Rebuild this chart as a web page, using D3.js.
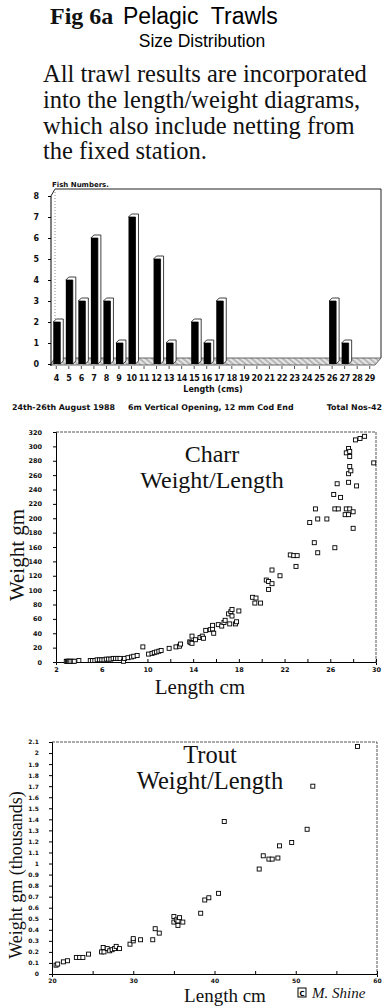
<!DOCTYPE html>
<html>
<head>
<meta charset="utf-8">
<script src="https://cdn.jsdelivr.net/npm/d3@7"></script>
<style>
  html, body { margin: 0; padding: 0; background: #fff; }
  svg { display: block; }
  .small { font-family: "DejaVu Sans", sans-serif; font-weight: bold; fill: #111; }
  .serif { font-family: "Liberation Serif", "Times New Roman", serif; fill: #111; }
  .tick text { font-family: "DejaVu Sans", sans-serif; font-weight: bold; fill: #111; }
</style>
</head>
<body>
<div id="chart"></div>
<script>
const width = 388;
const height = 1006;

// size distribution (bar chart)
const lengthCats = ["4", "5", "6", "7", "8", "9", "10", "11", "12", "13", "14", "15", "16",
  "17", "18", "19", "20", "21", "22", "23", "24", "25", "26", "27", "28", "29"];
const fishCounts = [2, 4, 3, 6, 3, 1, 7, 0, 5, 1, 0, 2, 1, 3, 0, 0, 0, 0, 0, 0, 0, 0, 3, 1, 0, 0];
const barTicks = [0, 1, 2, 3, 4, 5, 6, 7, 8];

// charr weight/length
const charrLength = [2.9, 3.0, 3.1, 3.2, 3.3, 3.5, 3.6, 4.0,
  5.0, 5.2, 5.4, 5.6, 5.8, 6.0, 6.2, 6.4, 6.6, 6.8, 7.0, 7.2, 7.4, 7.6, 7.9, 8.0, 8.3, 8.6, 8.8, 9.1,
  9.6, 10.1, 10.4, 10.6, 10.8, 11.0, 11.2, 11.9, 12.5, 12.8, 12.9, 13.7, 13.8, 13.9, 13.9,
  14.2, 14.6, 14.8, 14.9, 15.1, 15.5, 15.7, 15.8, 15.7, 16.2, 16.5, 16.7, 16.8, 17.1, 17.2,
  17.3, 17.4, 17.7, 17.8, 18.0, 17.4, 19.2, 19.4, 19.9, 19.5, 20.4, 20.6, 20.6, 20.9, 20.9, 21.6,
  22.5, 22.8, 23.1, 23.0, 24.2, 24.6, 24.7, 24.9, 24.9, 25.7, 26.3, 26.4, 26.4, 26.7, 26.6,
  26.9, 27.3, 27.4, 27.6, 27.6, 27.4, 27.6, 27.7, 27.7, 27.7, 27.6, 27.8, 27.7, 28.0,
  28.0, 28.3, 28.2, 28.6, 29.0, 29.8];
const charrWeight = [1, 1, 1, 1, 1, 1, 1, 2,
  2, 2, 2, 3, 3, 3, 3, 4, 4, 4, 5, 5, 5, 5, 1, 5, 6, 7, 8, 9,
  21, 11, 12, 13, 14, 15, 16, 19, 21, 22, 25, 28, 27, 26, 36,
  31, 34, 36, 33, 44, 45, 46, 40, 51, 52, 50, 55, 58, 67, 53,
  70, 64, 53, 56, 71, 73, 90, 82, 82, 89, 114, 112, 101, 109, 128, 120,
  149, 148, 148, 133, 194, 166, 213, 152, 199, 199, 233, 213, 159, 213, 248,
  229, 205, 213, 205, 262, 291, 297, 272, 293, 286, 250, 266, 213, 186,
  209, 245, 309, 311, 314, 277];
const charrYTicks = [0, 20, 40, 60, 80, 100, 120, 140, 160, 180, 200, 220, 240, 260, 280, 300, 320];
const charrXTicks = [2, 4, 6, 8, 10, 12, 14, 16, 18, 20, 22, 24, 26, 28, 30];

// trout weight/length (weights in thousands of gm)
const troutLength = [20.5, 20.7, 21.4, 21.9, 23.0, 23.4, 23.8, 24.5, 26.1, 26.3, 26.4, 26.8,
  27.1, 27.4, 27.7, 27.9, 28.3, 29.6, 30.0, 30.0, 30.9, 32.4, 32.7, 33.2, 35.0, 35.0, 35.3,
  35.5, 35.5, 35.7, 36.1, 38.3, 38.8, 39.3, 40.5, 41.2, 45.5, 46.0, 46.7, 47.1, 47.8, 48.0,
  49.5, 51.4, 52.1, 57.6];
const troutWeight = [0.08, 0.09, 0.11, 0.12, 0.15, 0.15, 0.15, 0.18, 0.20, 0.24, 0.20, 0.23,
  0.21, 0.22, 0.23, 0.25, 0.23, 0.27, 0.30, 0.32, 0.31, 0.31, 0.41, 0.37, 0.52, 0.47, 0.49,
  0.48, 0.44, 0.51, 0.47, 0.55, 0.67, 0.69, 0.73, 1.38, 0.95, 1.07, 1.04, 1.04, 1.05, 1.16,
  1.19, 1.31, 1.70, 2.06];
const troutYTicks = [0, 0.1, 0.2, 0.3, 0.4, 0.5, 0.6, 0.7, 0.8, 0.9, 1, 1.1, 1.2, 1.3, 1.4,
  1.5, 1.6, 1.7, 1.8, 1.9, 2, 2.1];
const troutXTicks = [20, 25, 30, 35, 40, 45, 50, 55, 60];

const introLines = [
  "All trawl results are incorporated",
  "into the length/weight diagrams,",
  "which also include netting from",
  "the fixed station."
];

const svg = d3.select("#chart")
  .append("svg")
  .attr("width", width)
  .attr("height", height);

svg.append("rect").attr("width", width).attr("height", height).attr("fill", "#fff");

// ---- heading ----
svg.append("text").attr("class", "serif")
  .attr("x", 50).attr("y", 24)
  .style("font-size", "24px").style("font-weight", "bold")
  .text("Fig 6a");
svg.append("text")
  .attr("x", 123).attr("y", 24)
  .style("font-family", "'Liberation Sans', Arial, sans-serif")
  .style("font-size", "23px").style("white-space", "pre")
  .text("Pelagic  Trawls");
svg.append("text")
  .attr("x", 202).attr("y", 47)
  .attr("text-anchor", "middle")
  .style("font-family", "'Liberation Sans', Arial, sans-serif")
  .style("font-size", "17.5px")
  .text("Size Distribution");

svg.append("g").selectAll("text")
  .data(introLines)
  .join("text")
  .attr("class", "serif")
  .attr("x", 43)
  .attr("y", (d, i) => 82 + i * 25.8)
  .style("font-size", "24.5px")
  .text(d => d);

// ---- bar chart ----
const xBar = d3.scaleBand().domain(lengthCats).range([50, 376]);
const yBar = d3.scaleLinear().domain([0, 8]).range([364, 196]);
const dep = 3;

const defs = svg.append("defs");
const pat = defs.append("pattern")
  .attr("id", "hatch")
  .attr("width", 4).attr("height", 4)
  .attr("patternUnits", "userSpaceOnUse")
  .attr("patternTransform", "rotate(-50)");
pat.append("rect").attr("width", 4).attr("height", 4).attr("fill", "#b8b8b8");
pat.append("line").attr("x1", 1).attr("y1", 0).attr("x2", 1).attr("y2", 4)
  .attr("stroke", "#fff").attr("stroke-width", 1.3);

svg.append("text").attr("class", "small")
  .attr("x", 52).attr("y", 187)
  .style("font-size", "7px")
  .text("Fish Numbers.");

const frame = svg.append("g").attr("fill", "none").attr("stroke", "#222").attr("stroke-width", 1);
frame.append("path")
  .attr("d", `M51,${yBar(8)}L55,189H381V${yBar(0) - 6}`);
frame.append("path")
  .attr("d", `M55,189V${yBar(0) - 6}`)
  .attr("stroke", "#888").attr("stroke-dasharray", "1,2");

// floor
svg.append("path")
  .attr("d", `M50,${yBar(0) + 1}H375L381,${yBar(0) - 6}H55Z`)
  .attr("fill", "url(#hatch)")
  .attr("stroke", "#444").attr("stroke-width", 0.8);

const barData = lengthCats.map((c, i) => ({ c: c, v: fishCounts[i] })).filter(d => d.v > 0);
const bars = svg.append("g").selectAll("g").data(barData).join("g");
bars.append("path")
  .attr("d", d => {
    const cx = xBar(d.c) + xBar.bandwidth() / 2;
    const x0 = cx - 3, x1 = cx + 4, y0 = yBar(0), y1 = yBar(d.v);
    return `M${x0},${y1}L${x0 + dep},${y1 - dep}H${x1 + dep}V${y0 - dep}L${x1},${y0}V${y1}Z`;
  })
  .attr("fill", "#fff").attr("stroke", "#111").attr("stroke-width", 0.8);
bars.append("rect")
  .attr("x", d => xBar(d.c) + xBar.bandwidth() / 2 - 3)
  .attr("y", d => yBar(d.v))
  .attr("width", 7)
  .attr("height", d => yBar(0) - yBar(d.v))
  .attr("fill", "#000");

const barY = svg.append("g")
  .attr("transform", "translate(51,0)")
  .call(d3.axisLeft(yBar).tickValues(barTicks).tickSize(3).tickPadding(9));
barY.select(".domain").attr("d", `M0,${yBar(8)}V${yBar(0) + 2}`);
barY.selectAll(".tick text").style("font-size", "8px");

const barX = svg.append("g")
  .attr("transform", `translate(0,${yBar(0) + 2})`)
  .call(d3.axisBottom(xBar).tickSize(3).tickPadding(6));
barX.select(".domain").remove();
barX.selectAll(".tick line").attr("stroke", "#555");
barX.selectAll(".tick text").style("font-size", "8px").style("letter-spacing", "-0.3px");

svg.append("text").attr("class", "small")
  .attr("x", 213).attr("y", 392).attr("text-anchor", "middle")
  .style("font-size", "8px")
  .text("Length (cms)");
svg.append("text").attr("class", "small")
  .attr("x", 12).attr("y", 410).style("font-size", "7.9px")
  .text("24th-26th August 1988");
svg.append("text").attr("class", "small")
  .attr("x", 128).attr("y", 410).style("font-size", "7.9px")
  .text("6m Vertical Opening, 12 mm Cod End");
svg.append("text").attr("class", "small")
  .attr("x", 382).attr("y", 410).attr("text-anchor", "end").style("font-size", "7.9px")
  .text("Total Nos-42");

// ---- scatter helper ----
function scatter(opts) {
  const g = svg.append("g");
  const x = opts.x, y = opts.y;
  const [x0, x1] = x.range();
  const [y0, y1] = y.range();

  // top and right borders
  g.append("path")
    .attr("d", `M${x0},${y1}H${x1}V${y0}`)
    .attr("fill", "none").attr("stroke", "#555").attr("stroke-width", 1)
    .attr("stroke-dasharray", "3,1");

  const ya = g.append("g")
    .attr("transform", `translate(${x0},0)`)
    .call(d3.axisLeft(y).tickValues(opts.yTicks).tickSize(3).tickPadding(opts.yPad).tickFormat(d => d));
  ya.selectAll(".tick text").style("font-size", opts.tickFont);

  const xa = g.append("g")
    .attr("transform", `translate(0,${y0})`)
    .call(d3.axisBottom(x).tickValues(opts.xTicks).tickSize(3).tickPadding(2).tickFormat(opts.xFormat));
  xa.selectAll(".tick text").style("font-size", opts.tickFont);
  xa.selectAll(".tick line").attr("transform", "translate(0,-3)");

  g.append("g").selectAll("rect")
    .data(opts.lx.map((v, i) => [v, opts.wy[i]]))
    .join("rect")
    .attr("x", d => x(d[0]) - 2)
    .attr("y", d => y(d[1]) - 2)
    .attr("width", 4).attr("height", 4)
    .attr("fill", "#fff").attr("stroke", "#000").attr("stroke-width", 0.9);

  g.append("g").selectAll("text")
    .data(opts.title)
    .join("text")
    .attr("class", "serif")
    .attr("x", opts.titleX)
    .attr("y", (d, i) => opts.titleY + i * opts.titleGap)
    .attr("text-anchor", "middle")
    .style("font-size", opts.titleFont)
    .text(d => d);

  g.append("text").attr("class", "serif")
    .attr("transform", `translate(${opts.ylabX},${opts.ylabY}) rotate(-90)`)
    .attr("text-anchor", "middle")
    .style("font-size", opts.ylabFont)
    .text(opts.ylab);

  g.append("text").attr("class", "serif")
    .attr("x", opts.xlabX).attr("y", opts.xlabY)
    .attr("text-anchor", "middle")
    .style("font-size", opts.xlabFont)
    .text("Length cm");
}

scatter({
  x: d3.scaleLinear().domain([2, 30]).range([56, 376]),
  y: d3.scaleLinear().domain([0, 320]).range([662, 432]),
  yTicks: charrYTicks,
  xTicks: charrXTicks,
  xFormat: d => ((d - 2) % 4 === 0 ? d : ""),
  yPad: 11,
  tickFont: "6.5px",
  lx: charrLength,
  wy: charrWeight,
  title: ["Charr", "Weight/Length"],
  titleX: 212, titleY: 462, titleGap: 26, titleFont: "24px",
  ylab: "Weight gm", ylabX: 24, ylabY: 555, ylabFont: "21px",
  xlabX: 200, xlabY: 694, xlabFont: "21px"
});

scatter({
  x: d3.scaleLinear().domain([20, 60]).range([52, 377]),
  y: d3.scaleLinear().domain([0, 2.1]).range([974, 742]),
  yTicks: troutYTicks,
  xTicks: troutXTicks,
  xFormat: d => (d % 10 === 0 ? d : ""),
  yPad: 10,
  tickFont: "6px",
  lx: troutLength,
  wy: troutWeight,
  title: ["Trout", "Weight/Length"],
  titleX: 210, titleY: 763, titleGap: 26, titleFont: "24.5px",
  ylab: "Weight gm (thousands)", ylabX: 22, ylabY: 875, ylabFont: "18px",
  xlabX: 225, xlabY: 1002, xlabFont: "19px"
});

// signature
svg.append("rect")
  .attr("x", 298).attr("y", 988).attr("width", 8).attr("height", 9)
  .attr("fill", "#fff").attr("stroke", "#000").attr("stroke-width", 1);
svg.append("text")
  .attr("x", 302).attr("y", 995.5).attr("text-anchor", "middle")
  .style("font-family", "'DejaVu Sans', sans-serif").style("font-weight", "bold").style("font-size", "7px")
  .text("C");
svg.append("text").attr("class", "serif")
  .attr("x", 312).attr("y", 998)
  .style("font-size", "15px").style("font-style", "italic")
  .text("M. Shine");
</script>
</body>
</html>
